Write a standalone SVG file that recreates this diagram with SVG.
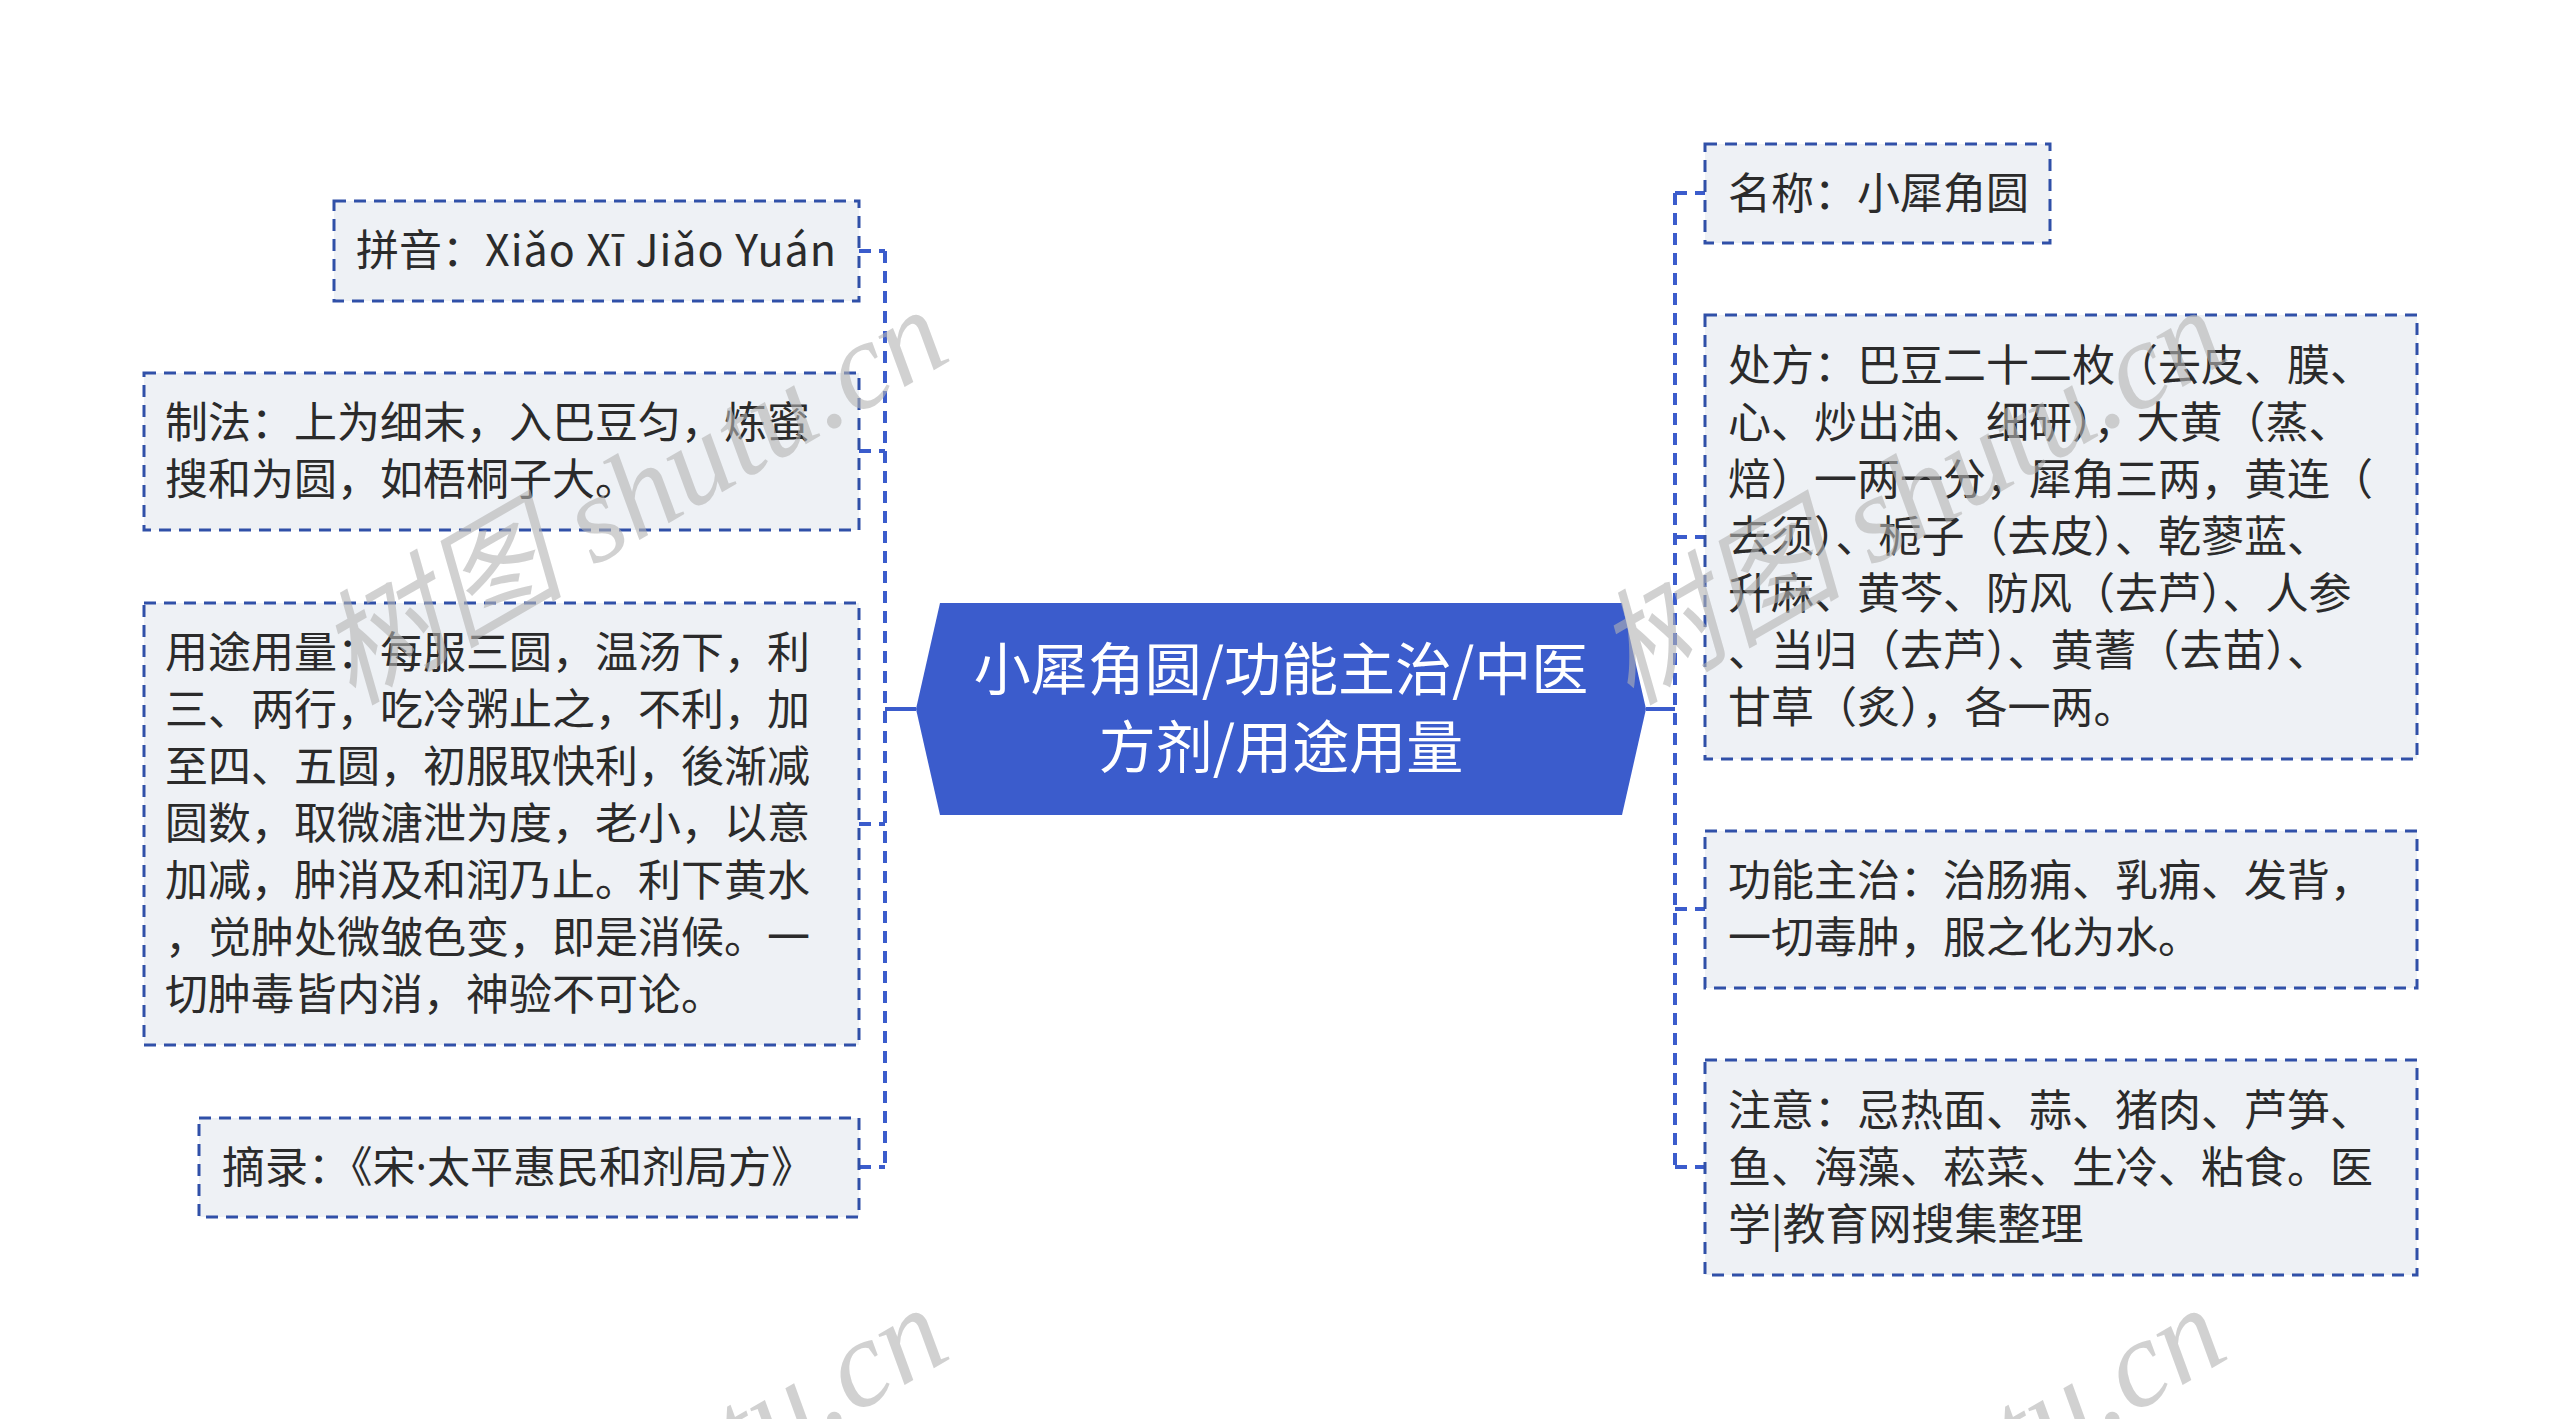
<svg xmlns="http://www.w3.org/2000/svg" width="2560" height="1419" viewBox="0 0 2560 1419">
<style>
.box{fill:#EEF1F5;stroke:#3050A8;stroke-width:3;stroke-dasharray:12 8}
.t{font-family:"Noto Sans CJK SC","Noto Sans",sans-serif;font-size:43px;fill:#2B2B2B}
.ct{font-family:"Noto Sans CJK SC","Noto Sans",sans-serif;font-size:57px;fill:#FFFFFF;text-anchor:middle}
.dl{fill:none;stroke:#3B5CCC;stroke-width:4;stroke-dasharray:12 8}
.sl{fill:none;stroke:#3B5CCC;stroke-width:4}
.wm{font-family:"Liberation Serif","Noto Sans CJK SC",serif;font-style:italic;font-size:124px;fill:#B4B4B4;opacity:0.6}
</style>
<rect width="2560" height="1419" fill="#FFFFFF"/>
<g id="connectors">
<path class="sl" d="M885 709 H916"/>
<path class="dl" d="M885 251 V1167"/>
<path class="dl" d="M859 251 H885"/>
<path class="dl" d="M859 451 H885"/>
<path class="dl" d="M859 824 H885"/>
<path class="dl" d="M859 1167 H885"/>
<path class="sl" d="M1646 709 H1675"/>
<path class="dl" d="M1675 193 V1167"/>
<path class="dl" d="M1675 193 H1705"/>
<path class="dl" d="M1675 537 H1705"/>
<path class="dl" d="M1675 909 H1705"/>
<path class="dl" d="M1675 1167 H1705"/>
</g>
<g id="center">
<polygon points="940,603 1622,603 1646,709 1622,815 940,815 916,709" fill="#3B5CCC"/>
<text class="ct" x="1281" y="690">小犀角圆/功能主治/中医</text>
<text class="ct" x="1281" y="768">方剂/用途用量</text>
</g>
<g id="pinyin">
<rect class="box" x="334" y="201" width="525" height="100"/>
<text class="t" x="356" y="266">拼音：<tspan letter-spacing="1">Xiǎo Xī Jiǎo Yuán</tspan></text>
</g>
<g id="zhifa">
<rect class="box" x="144" y="373" width="715" height="157"/>
<text class="t" x="165" y="438">制法：上为细末，入巴豆匀，炼蜜</text>
<text class="t" x="165" y="495">搜和为圆，如梧桐子大。</text>
</g>
<g id="yongtu">
<rect class="box" x="144" y="603" width="715" height="442"/>
<text class="t" x="165" y="668">用途用量：每服三圆，温汤下，利</text>
<text class="t" x="165" y="725">三、两行，吃冷粥止之，不利，加</text>
<text class="t" x="165" y="782">至四、五圆，初服取快利，後渐减</text>
<text class="t" x="165" y="839">圆数，取微溏泄为度，老小，以意</text>
<text class="t" x="165" y="896">加减，肿消及和润乃止。利下黄水</text>
<text class="t" x="165" y="953">，觉肿处微皱色变，即是消候。一</text>
<text class="t" x="165" y="1010">切肿毒皆内消，神验不可论。</text>
</g>
<g id="zhailu">
<rect class="box" x="199" y="1118" width="660" height="99"/>
<text class="t" x="222" y="1183">摘录：《宋<tspan font-family="Noto Sans, sans-serif">·</tspan>太平惠民和剂局方》</text>
</g>
<g id="mingcheng">
<rect class="box" x="1705" y="144" width="345" height="99"/>
<text class="t" x="1728" y="209">名称：小犀角圆</text>
</g>
<g id="chufang">
<rect class="box" x="1705" y="315" width="712" height="444"/>
<text class="t" x="1728" y="381">处方：巴豆二十二枚（去皮、膜、</text>
<text class="t" x="1728" y="438">心、炒出油、细研），大黄（蒸、</text>
<text class="t" x="1728" y="495">焙）一两一分，犀角三两，黄连（</text>
<text class="t" x="1728" y="552">去须）、栀子（去皮）、乾蓼蓝、</text>
<text class="t" x="1728" y="609">升麻、黄芩、防风（去芦）、人参</text>
<text class="t" x="1728" y="666">、当归（去芦）、黄蓍（去苗）、</text>
<text class="t" x="1728" y="723">甘草（炙），各一两。</text>
</g>
<g id="gongneng">
<rect class="box" x="1705" y="831" width="712" height="157"/>
<text class="t" x="1728" y="896">功能主治：治肠痈、乳痈、发背，</text>
<text class="t" x="1728" y="953">一切毒肿，服之化为水。</text>
</g>
<g id="zhuyi">
<rect class="box" x="1705" y="1060" width="712" height="215"/>
<text class="t" x="1728" y="1126">注意：忌热面、蒜、猪肉、芦笋、</text>
<text class="t" x="1728" y="1183">鱼、海藻、菘菜、生冷、粘食。医</text>
<text class="t" x="1728" y="1240">学|教育网搜集整理</text>
</g>
<g id="watermark">
<text class="wm" transform="translate(352 706) rotate(-30)">树图 shutu.cn</text>
<text class="wm" transform="translate(1630 706) rotate(-30)">树图 shutu.cn</text>
<text class="wm" transform="translate(352 1704) rotate(-30)">树图 shutu.cn</text>
<text class="wm" transform="translate(1630 1704) rotate(-30)">树图 shutu.cn</text>
</g>
</svg>
